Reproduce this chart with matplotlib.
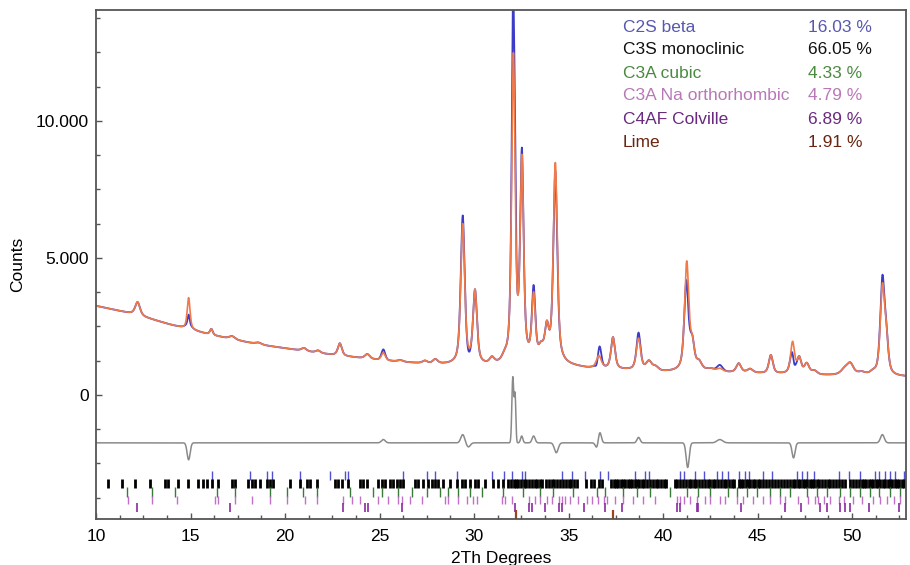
import numpy as np
import matplotlib
matplotlib.use("Agg")
import matplotlib.pyplot as plt
from matplotlib.ticker import MultipleLocator, FuncFormatter

plt.rcParams['font.family'] = ['Liberation Sans', 'DejaVu Sans']

# background (2Th, counts)
bg_pos = [10, 11, 12, 13, 14, 15, 16, 17, 18, 19, 20, 21, 22, 23, 24, 25, 26,
          27, 28, 29, 30, 31, 32, 33, 34, 35, 36, 37, 38, 39, 40, 41, 42, 43,
          44, 45, 46, 47, 48, 49, 50, 51, 52, 53]
bg_cnt = [3250, 3100, 2950, 2750, 2550, 2380, 2200, 2060, 1920, 1800, 1700,
          1600, 1500, 1420, 1340, 1260, 1200, 1150, 1110, 1080, 1060, 1030,
          1080, 1150, 1150, 1050, 960, 930, 900, 870, 830, 830, 840, 820, 800,
          780, 760, 740, 710, 710, 720, 690, 670, 660]

# calculated peaks: position, height above background, FWHM
pk_pos = [12.2, 14.9, 16.1, 17.2, 18.6, 21.0, 21.75, 22.9, 24.35, 25.2, 26.1,
          27.4, 27.95, 29.4, 30.05, 30.95, 31.6, 32.08, 32.53, 33.15, 33.55,
          33.85, 34.3, 36.6, 37.35, 38.7, 39.25, 39.6, 41.25, 41.55, 41.9, 42.5,
          43.0, 44.0, 44.6, 45.7, 46.85, 47.2, 47.6, 48.0, 49.6, 49.9, 50.5,
          51.1, 51.6, 51.8]
pk_hgt = [480, 1150, 220, 110, 60, 110, 90, 450, 170, 280, 60,
          90, 160, 5100, 2650, 230, 140, 11100, 7200, 2300, 400,
          1100, 7250, 450, 1150, 1150, 320, 140, 3950, 850, 280, 90,
          110, 330, 140, 670, 1150, 560, 380, 140, 190, 380, 90,
          90, 3100, 1200]
pk_fwhm = [0.3, 0.18, 0.18, 0.35, 0.35, 0.3, 0.3, 0.25, 0.3, 0.24, 0.35,
           0.3, 0.3, 0.25, 0.25, 0.3, 0.3, 0.22, 0.22, 0.22, 0.3,
           0.25, 0.25, 0.3, 0.25, 0.27, 0.35, 0.35, 0.27, 0.25, 0.35, 0.45,
           0.35, 0.3, 0.35, 0.25, 0.25, 0.25, 0.3, 0.35, 0.45, 0.4, 0.45,
           0.35, 0.27, 0.25]

# misfit (observed - calculated): position, amplitude, width
res_pos = [14.9, 25.2, 29.4, 29.7, 32.05, 32.17, 32.52, 33.15, 34.35, 36.5,
           36.65, 38.7, 41.3, 43.0, 46.9, 51.6]
res_amp = [-620, 120, 300, -150, 2400, 1700, 250, 250, -360, -200,
           400, 200, -900, 120, -550, 300]
res_wid = [0.08, 0.1, 0.1, 0.1, 0.05, 0.04, 0.06, 0.08, 0.1, 0.08,
           0.08, 0.08, 0.08, 0.15, 0.08, 0.1]
diff_offset = -1750

# reflection positions per phase
c2s_ticks = [16.12, 18.15, 19.03, 19.29, 20.79, 22.38, 23.17, 23.35, 26.26,
             27.5, 27.94, 29.08, 30.93, 31.56, 32.0, 32.53, 32.7, 34.64,
             35.17, 35.88, 36.67, 37.11, 38.52, 39.05, 39.23, 40.9, 41.08,
             41.7, 42.14, 42.84, 43.11, 43.46, 43.99, 44.34, 44.52, 45.31,
             45.75, 47.08, 47.34, 47.6, 47.96, 49.28, 49.81, 50.43, 51.22,
             51.4, 51.75, 52.01, 52.28, 52.72]
c3s_ticks = [10.65, 11.36, 12.06, 12.86, 13.65, 13.83, 14.36, 14.89, 15.41,
             15.68, 15.86, 16.12, 16.47, 17.18, 17.35, 18.06, 18.24, 18.41,
             18.68, 19.03, 19.21, 19.38, 20.26, 20.79, 21.15, 21.32, 21.68,
             22.65, 22.82, 23.0, 23.35, 23.97, 24.14, 24.32, 24.94, 25.11,
             25.29, 25.56, 25.73, 25.91, 26.08, 26.26, 26.88, 27.05, 27.32,
             27.58, 27.76, 27.94, 28.11, 28.38, 28.73, 29.08, 29.35, 29.52,
             29.79, 30.05, 30.23, 30.58, 31.02, 31.29, 31.55, 31.82,
             31.95, 32.1, 32.2, 32.35, 32.5, 32.62, 32.75, 32.9, 33.05, 33.2,
             33.32, 33.5, 33.62, 33.8, 33.95, 34.1, 34.22, 34.4, 34.55, 34.7,
             34.85, 35.0, 35.15, 35.3, 35.42, 35.9, 36.2, 36.35, 36.6, 36.75,
             37.25, 37.38, 37.5, 37.62, 37.75, 37.88, 38.0, 38.12, 38.25,
             38.38, 38.5, 38.62, 38.75, 38.88, 39.0, 39.15, 39.3, 39.45, 39.6,
             39.75, 39.9, 40.05, 40.15, 40.62, 40.75, 40.9, 41.05, 41.2,
             41.35, 41.5, 41.62, 41.75, 41.9, 42.05, 42.2, 42.35, 42.5, 42.62,
             42.75, 42.9, 43.05, 43.2, 43.35, 43.5, 43.62, 43.75, 44.0, 44.12,
             44.25, 44.38, 44.5, 44.62, 44.75, 44.88, 45.0, 45.15, 45.3,
             45.45, 45.6, 45.75, 45.9, 46.1, 46.25, 46.4, 46.55, 46.7, 46.85,
             47.0, 47.12, 47.25, 47.38, 47.5, 47.62, 47.75, 47.88, 48.0,
             48.12, 48.25, 48.4, 48.55, 48.7, 48.85, 49.0, 49.15, 49.3, 49.45,
             49.6, 49.9, 50.05, 50.2, 50.35, 50.5, 50.62, 50.75, 50.88, 51.0,
             51.12, 51.25, 51.38, 51.5, 51.62, 51.75, 51.88, 52.0, 52.12,
             52.25, 52.38, 52.5, 52.62, 52.75]
c3a_cub_ticks = [11.62, 12.95, 14.18, 16.38, 17.35, 19.21, 20.09, 20.97,
                 21.68, 23.44, 24.67, 25.11, 26.0, 26.7, 27.5, 28.2, 28.64,
                 29.17, 29.79, 30.41, 31.55, 32.61, 33.5, 34.2, 35.26, 36.49,
                 36.93, 37.9, 38.61, 39.32, 40.37, 41.26, 41.87, 42.49, 43.46,
                 43.9, 44.43, 44.96, 45.66, 46.19, 46.72, 47.6, 48.13, 48.66,
                 49.37, 49.9, 50.43, 50.96, 51.4, 52.01, 52.54]
c3a_na_ticks = [11.71, 12.95, 14.27, 16.3, 16.47, 17.35, 18.24, 19.21, 20.09,
                21.06, 21.68, 23.09, 23.53, 23.97, 24.94, 25.47, 26.0, 26.17,
                26.61, 27.23, 28.47, 28.64, 29.17, 29.61, 29.96, 30.14, 31.46,
                31.64, 32.0, 32.88, 33.23, 33.5, 33.85, 34.11, 34.47, 34.64,
                34.82, 35.08, 35.52, 35.96, 36.23, 36.58, 36.85, 37.02, 37.46,
                37.9, 38.43, 38.96, 39.58, 40.73, 40.9, 41.08, 41.43, 41.78,
                42.23, 42.49, 43.02, 43.28, 43.9, 44.25, 44.78, 45.31, 45.66,
                46.19, 46.46, 47.16, 47.69, 48.05, 48.22, 48.49, 48.84, 49.28,
                49.55, 50.07, 50.51, 51.13, 51.49, 51.84, 52.19, 52.54]
c4af_ticks = [12.15, 17.09, 23.09, 24.23, 24.41, 26.17, 32.17, 32.88, 33.05,
              33.76, 34.47, 34.64, 35.79, 36.93, 37.82, 40.73, 40.9, 41.78,
              41.87, 44.1, 46.46, 47.3, 48.31, 48.66, 49.37, 49.63, 49.9,
              50.9, 52.46]
lime_ticks = [32.2, 37.36]

phases = ['C2S beta', 'C3S monoclinic', 'C3A cubic', 'C3A Na orthorhombic',
          'C4AF Colville', 'Lime']
percent = ['16.03 %', '66.05 %', '4.33 %', '4.79 %', '6.89 %', '1.91 %']
text_colors = ['#5858b0', '#111111', '#4a8a40', '#b878b8', '#6a2a80', '#6a2410']
tick_colors = ['#5050d0', '#000000', '#3c7a3c', '#c070c8', '#8a2aa0', '#a04020']
tick_rows = [(-3100, -2780), (-3390, -3070), (-3720, -3360), (-3980, -3690),
             (-4270, -3940), (-4530, -4200)]
tick_lists = [c2s_ticks, c3s_ticks, c3a_cub_ticks, c3a_na_ticks, c4af_ticks,
              lime_ticks]
tick_lw = [1.0, 2.0, 1.0, 1.0, 1.2, 1.6]


def pvoigt(x, c, h, w, eta=0.6):
    g = np.exp(-4 * np.log(2) * ((x - c) / w) ** 2)
    l = 1.0 / (1 + 4 * ((x - c) / w) ** 2)
    return h * (eta * l + (1 - eta) * g)


tt = np.linspace(10, 52.85, 5000)
calc = np.interp(tt, bg_pos, bg_cnt)
for c, h, w in zip(pk_pos, pk_hgt, pk_fwhm):
    calc = calc + pvoigt(tt, c, h, w)
resid = np.zeros_like(tt)
for c, a, w in zip(res_pos, res_amp, res_wid):
    resid = resid + a * np.exp(-0.5 * ((tt - c) / w) ** 2)
obs = calc + resid

fig = plt.figure(figsize=(9.1, 5.65), dpi=100)
ax = fig.add_axes([96 / 910, 1 - 519 / 565, 810 / 910, 509 / 565])

ax.plot(tt, obs, color='#3c3cc8', lw=1.3)
ax.plot(tt, calc, color='#f07a4a', lw=1.2)
ax.plot(tt, resid + diff_offset, color='#8a8a8a', lw=1.1)

for pos, (y0, y1), col, lw in zip(tick_lists, tick_rows, tick_colors, tick_lw):
    ax.vlines(pos, y0, y1, colors=col, lw=lw)

ax.set_xlim(10, 52.85)
ax.set_ylim(-4530, 14050)
ax.xaxis.set_major_locator(MultipleLocator(5))
ax.xaxis.set_minor_locator(MultipleLocator(1.25))
ax.yaxis.set_major_locator(MultipleLocator(5000))
ax.yaxis.set_minor_locator(MultipleLocator(1250))
ax.yaxis.set_major_formatter(FuncFormatter(lambda v, p: '{:,.0f}'.format(v).replace(',', '.')))
ax.tick_params(which='both', direction='in', colors='#555555', labelcolor='black',
               labelsize=12.5, pad=5)
ax.tick_params(axis='x', pad=7)
ax.tick_params(which='major', length=4, width=1)
ax.tick_params(which='minor', length=3, width=1)
for s in ax.spines.values():
    s.set_color('#555555')
    s.set_linewidth(1.3)

ax.set_xlabel('2Th Degrees', fontsize=12.5, labelpad=5)
ax.set_ylabel('Counts', fontsize=12.5, labelpad=8)

for i in range(len(phases)):
    yy = 1 - (27 + 23 * i) / 565
    fig.text(623 / 910, yy, phases[i], color=text_colors[i], fontsize=12.5, va='center')
    fig.text(808 / 910, yy, percent[i], color=text_colors[i], fontsize=12.5, va='center')

fig.savefig('out.png', dpi=100)
